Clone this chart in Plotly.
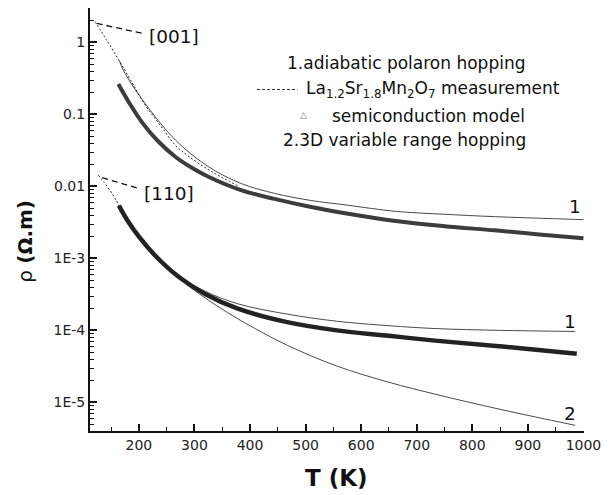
import numpy as np
import plotly.graph_objects as go

# ---------------- data ----------------
# [001] direction
T_meas_001 = [121, 142, 165, 185, 210, 240, 266, 290, 330, 380]
rho_meas_001 = [1.94, 1.08, 0.55, 0.30, 0.14, 0.068, 0.037, 0.026, 0.0162, 0.0100]

T_ap_001 = [165, 172, 207, 266, 326, 385, 444, 508, 574, 662, 750, 840, 946, 1000]
rho_ap_001 = [0.56, 0.41, 0.157, 0.0438, 0.0186, 0.0109, 0.0080, 0.0064, 0.0055,
              0.0045, 0.0041, 0.0038, 0.00356, 0.00345]

T_sc_001 = [163, 185, 207, 235, 266, 296, 326, 385, 444, 508, 574, 662, 750, 840, 920, 1000]
rho_sc_001 = [0.265, 0.135, 0.075, 0.042, 0.0256, 0.018, 0.0135, 0.0088, 0.0067, 0.0052,
              0.0042, 0.0033, 0.0028, 0.00245, 0.00215, 0.0019]

# [110] direction
T_meas_110 = [127, 138, 148, 157, 164, 180, 200]
rho_meas_110 = [0.0143, 0.0112, 0.0088, 0.0068, 0.0055, 0.0033, 0.0020]

T_sc_110 = [164, 180, 200, 230, 272, 319, 378, 467, 556, 650, 733, 850, 988]
rho_sc_110 = [5.4e-3, 3.3e-3, 2.0e-3, 1.08e-3, 5.5e-4, 3.2e-4, 2.0e-4, 1.3e-4, 1.0e-4,
              8.4e-5, 7.2e-5, 6.0e-5, 4.75e-5]

T_ap_110 = [164, 200, 230, 272, 319, 378, 467, 556, 650, 733, 850, 985]
rho_ap_110 = [5.4e-3, 2.0e-3, 1.1e-3, 5.7e-4, 3.5e-4, 2.34e-4, 1.68e-4, 1.34e-4,
              1.16e-4, 1.06e-4, 1.0e-4, 9.66e-5]

T_vrh_110 = [164, 200, 230, 272, 300, 340, 378, 408, 467, 556, 650, 733, 850, 985]
rho_vrh_110 = [5.4e-3, 2.0e-3, 1.08e-3, 5.4e-4, 3.6e-4, 2.2e-4, 1.45e-4, 1.07e-4, 6.2e-5,
               3.2e-5, 1.9e-5, 1.3e-5, 8.0e-6, 4.8e-6]

# leader lines to the direction labels
lead_001_T = [124, 207]
lead_001_rho = [1.84, 1.33]
lead_110_T = [134, 201]
lead_110_rho = [0.0132, 0.0093]

x_ticks = [200, 300, 400, 500, 600, 700, 800, 900, 1000]
y_ticks = [1, 0.1, 0.01, 1e-3, 1e-4, 1e-5]
y_ticktext = ["1", "0.1", "0.01", "1E-3", "1E-4", "1E-5"]

FONT = "DejaVu Sans"
thin = "#4a4a4a"

fig = go.Figure()

# model curves (thin solid)
for T, r in [(T_ap_001, rho_ap_001), (T_ap_110, rho_ap_110), (T_vrh_110, rho_vrh_110)]:
    fig.add_trace(go.Scatter(x=T, y=r, mode="lines", line=dict(color=thin, width=1, shape="spline"),
                             showlegend=False))

# semiconduction model (dense triangles -> thick band)
fig.add_trace(go.Scatter(x=T_sc_001, y=rho_sc_001, mode="lines",
                         line=dict(color="#3c3c3c", width=4, shape="spline"), showlegend=False))
fig.add_trace(go.Scatter(x=T_sc_110, y=rho_sc_110, mode="lines",
                         line=dict(color="#222222", width=4.5, shape="spline"), showlegend=False))

# measurements (dotted)
for T, r in [(T_meas_001, rho_meas_001), (T_meas_110, rho_meas_110)]:
    fig.add_trace(go.Scatter(x=T, y=r, mode="lines",
                             line=dict(color="#222", width=1, dash="2px,2px", shape="spline"),
                             showlegend=False))

# leader lines
for T, r in [(lead_001_T, lead_001_rho), (lead_110_T, lead_110_rho)]:
    fig.add_trace(go.Scatter(x=T, y=r, mode="lines",
                             line=dict(color="#111", width=1.3, dash="6px,4px"), showlegend=False))

ann = []
lab_font = dict(family=FONT, size=18.5, color="#111")
ann.append(dict(x=214, y=np.log10(1.22), text="[001]", xanchor="left", yanchor="middle",
                showarrow=False, font=lab_font))
ann.append(dict(x=205, y=np.log10(0.0080), text="[110]", xanchor="left", yanchor="middle",
                showarrow=False, font=lab_font))
ann.append(dict(x=984, y=np.log10(5.2e-3), text="1", xanchor="center", yanchor="middle",
                showarrow=False, font=lab_font))
ann.append(dict(x=976, y=np.log10(1.33e-4), text="1", xanchor="center", yanchor="middle",
                showarrow=False, font=lab_font))
ann.append(dict(x=976, y=np.log10(6.9e-6), text="2", xanchor="center", yanchor="middle",
                showarrow=False, font=lab_font))

# legend (text block)
def px(xp):
    return (xp - 90) / 500.0

def py(yp):
    return (431 - yp) / 423.0

leg_font = dict(family=FONT, size=17, color="#111")
ann.append(dict(xref="paper", yref="paper", x=px(410), y=py(63), xanchor="center", yanchor="middle",
                text="1.adiabatic polaron hopping", showarrow=False, font=leg_font))
ann.append(dict(xref="paper", yref="paper", x=px(307), y=py(89), xanchor="left", yanchor="middle",
                text="La<sub>1.2</sub>Sr<sub>1.8</sub>Mn<sub>2</sub>O<sub>7</sub> measurement",
                showarrow=False, font=leg_font))
ann.append(dict(xref="paper", yref="paper", x=px(333), y=py(116), xanchor="left", yanchor="middle",
                text="semiconduction model", showarrow=False, font=leg_font))
ann.append(dict(xref="paper", yref="paper", x=px(306), y=py(115), xanchor="center", yanchor="middle",
                text="△", showarrow=False, font=dict(family=FONT, size=9, color="#777")))
ann.append(dict(xref="paper", yref="paper", x=px(408), y=py(140), xanchor="center", yanchor="middle",
                text="2.3D variable range hopping", showarrow=False, font=leg_font))

# axis titles
ann.append(dict(xref="paper", yref="paper", x=px(339), y=py(478), xanchor="center", yanchor="middle",
                text="<b>T (K)</b>", showarrow=False, font=dict(family=FONT, size=23, color="#111")))
ann.append(dict(xref="paper", yref="paper", x=px(24), y=py(241), xanchor="center", yanchor="middle",
                text="ρ <b>(Ω.m)</b>", textangle=-90,
                showarrow=False, font=dict(family=FONT, size=20, color="#111")))

shapes = [dict(type="line", xref="paper", yref="paper", x0=px(259), x1=px(300), y0=py(89.5), y1=py(89.5),
               line=dict(color="#333", width=1, dash="3px,2px"))]

minor_y = [d * 10.0 ** e for e in range(-6, 1) for d in range(2, 10)]

fig.update_layout(
    width=609, height=495,
    margin=dict(l=90, r=19, t=8, b=64),
    paper_bgcolor="white", plot_bgcolor="white",
    showlegend=False,
    annotations=ann, shapes=shapes,
    font=dict(family=FONT, color="#222"),
    xaxis=dict(range=[112, 1001], showgrid=False, zeroline=False, showline=True,
               linecolor="#111", linewidth=2, ticks="inside", ticklen=7, tickwidth=1.6,
               tickcolor="#111", tickmode="array", tickvals=x_ticks,
               tickfont=dict(family=FONT, size=14, color="#222"),
               minor=dict(ticks="inside", ticklen=4, tickwidth=1.4, tickcolor="#111",
                          dtick=50, tick0=0)),
    yaxis=dict(type="log", range=[np.log10(4e-6), 0.478], showgrid=False, zeroline=False,
               showline=True, linecolor="#111", linewidth=2, ticks="inside", ticklen=7,
               tickwidth=1.6, tickcolor="#111", tickmode="array", tickvals=y_ticks,
               ticktext=y_ticktext, tickfont=dict(family=FONT, size=14, color="#222"),
               minor=dict(ticks="inside", ticklen=4, tickwidth=1.2, tickcolor="#111",
                          tickmode="array", tickvals=minor_y)),
)

fig.write_html("out.html", config={"displayModeBar": False},
               post_script="document.body.style.margin='0';")
